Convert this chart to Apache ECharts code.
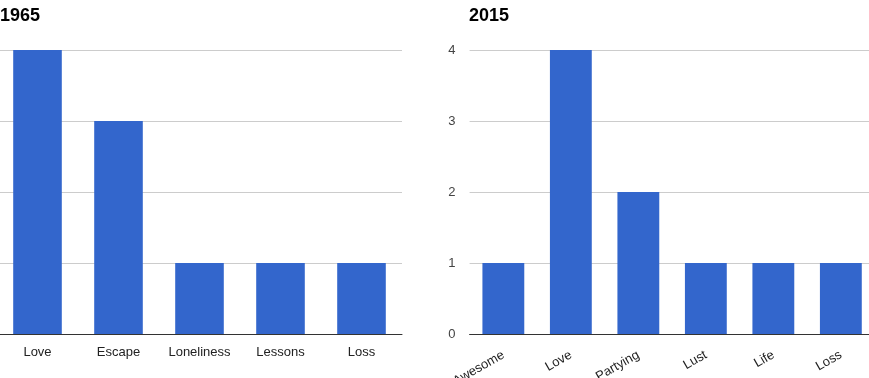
<!DOCTYPE html>
<html>
<head>
<meta charset="utf-8">
<script src="https://cdn.jsdelivr.net/npm/echarts@6/dist/echarts.min.js"></script>
<style>html,body{margin:0;padding:0;background:#fff}#c{width:869px;height:378px}</style>
</head>
<body>
<div id="c"></div>
<script>
const cats1965 = ['Love', 'Escape', 'Loneliness', 'Lessons', 'Loss'];
const vals1965 = [4, 3, 1, 1, 1];
const cats2015 = ['Awesome', 'Love', 'Partying', 'Lust', 'Life', 'Loss'];
const vals2015 = [1, 4, 2, 1, 1, 1];
const yTicks = [0, 1, 2, 3, 4];

const chart = echarts.init(document.getElementById('c'), null, {renderer: 'canvas'});
const font = 'Arial, "Liberation Sans", sans-serif';
const yAxisBase = (show) => ({
  type: 'value', min: yTicks[0], max: yTicks[yTicks.length - 1], interval: 1,
  axisLine: {show: false}, axisTick: {show: false},
  axisLabel: {show: show, color: '#444', fontSize: 13, fontFamily: font, margin: 14},
  splitLine: {lineStyle: {color: '#cccccc', width: 1}}
});
chart.setOption({
  animation: false,
  title: [
    {text: '1965', left: 0, top: 7, padding: 0, textStyle: {fontSize: 18, fontWeight: 'bold', color: '#000', fontFamily: font}},
    {text: '2015', left: 469, top: 7, padding: 0, textStyle: {fontSize: 18, fontWeight: 'bold', color: '#000', fontFamily: font}}
  ],
  grid: [
    {left: -3, top: 50, width: 405, bottom: 44, outerBoundsMode: 'none', containLabel: false},
    {left: 469.6, top: 50, width: 405, bottom: 44, outerBoundsMode: 'none', containLabel: false}
  ],
  xAxis: [
    {type: 'category', gridIndex: 0, data: cats1965,
     axisLine: {lineStyle: {color: '#333', width: 1}}, axisTick: {show: false},
     axisLabel: {color: '#222', fontSize: 13, fontFamily: font, margin: 12, interval: 0}},
    {type: 'category', gridIndex: 1, data: cats2015,
     axisLine: {lineStyle: {color: '#333', width: 1}}, axisTick: {show: false},
     axisLabel: {color: '#222', fontSize: 13, fontFamily: font, margin: 20, rotate: 30, interval: 0}}
  ],
  yAxis: [
    Object.assign({gridIndex: 0}, yAxisBase(false)),
    Object.assign({gridIndex: 1}, yAxisBase(true))
  ],
  series: [
    {type: 'bar', xAxisIndex: 0, yAxisIndex: 0, data: vals1965, barCategoryGap: '40%',
     itemStyle: {color: '#3366cc'}},
    {type: 'bar', xAxisIndex: 1, yAxisIndex: 1, data: vals2015, barCategoryGap: '38%',
     itemStyle: {color: '#3366cc'}}
  ]
});
</script>
</body>
</html>
